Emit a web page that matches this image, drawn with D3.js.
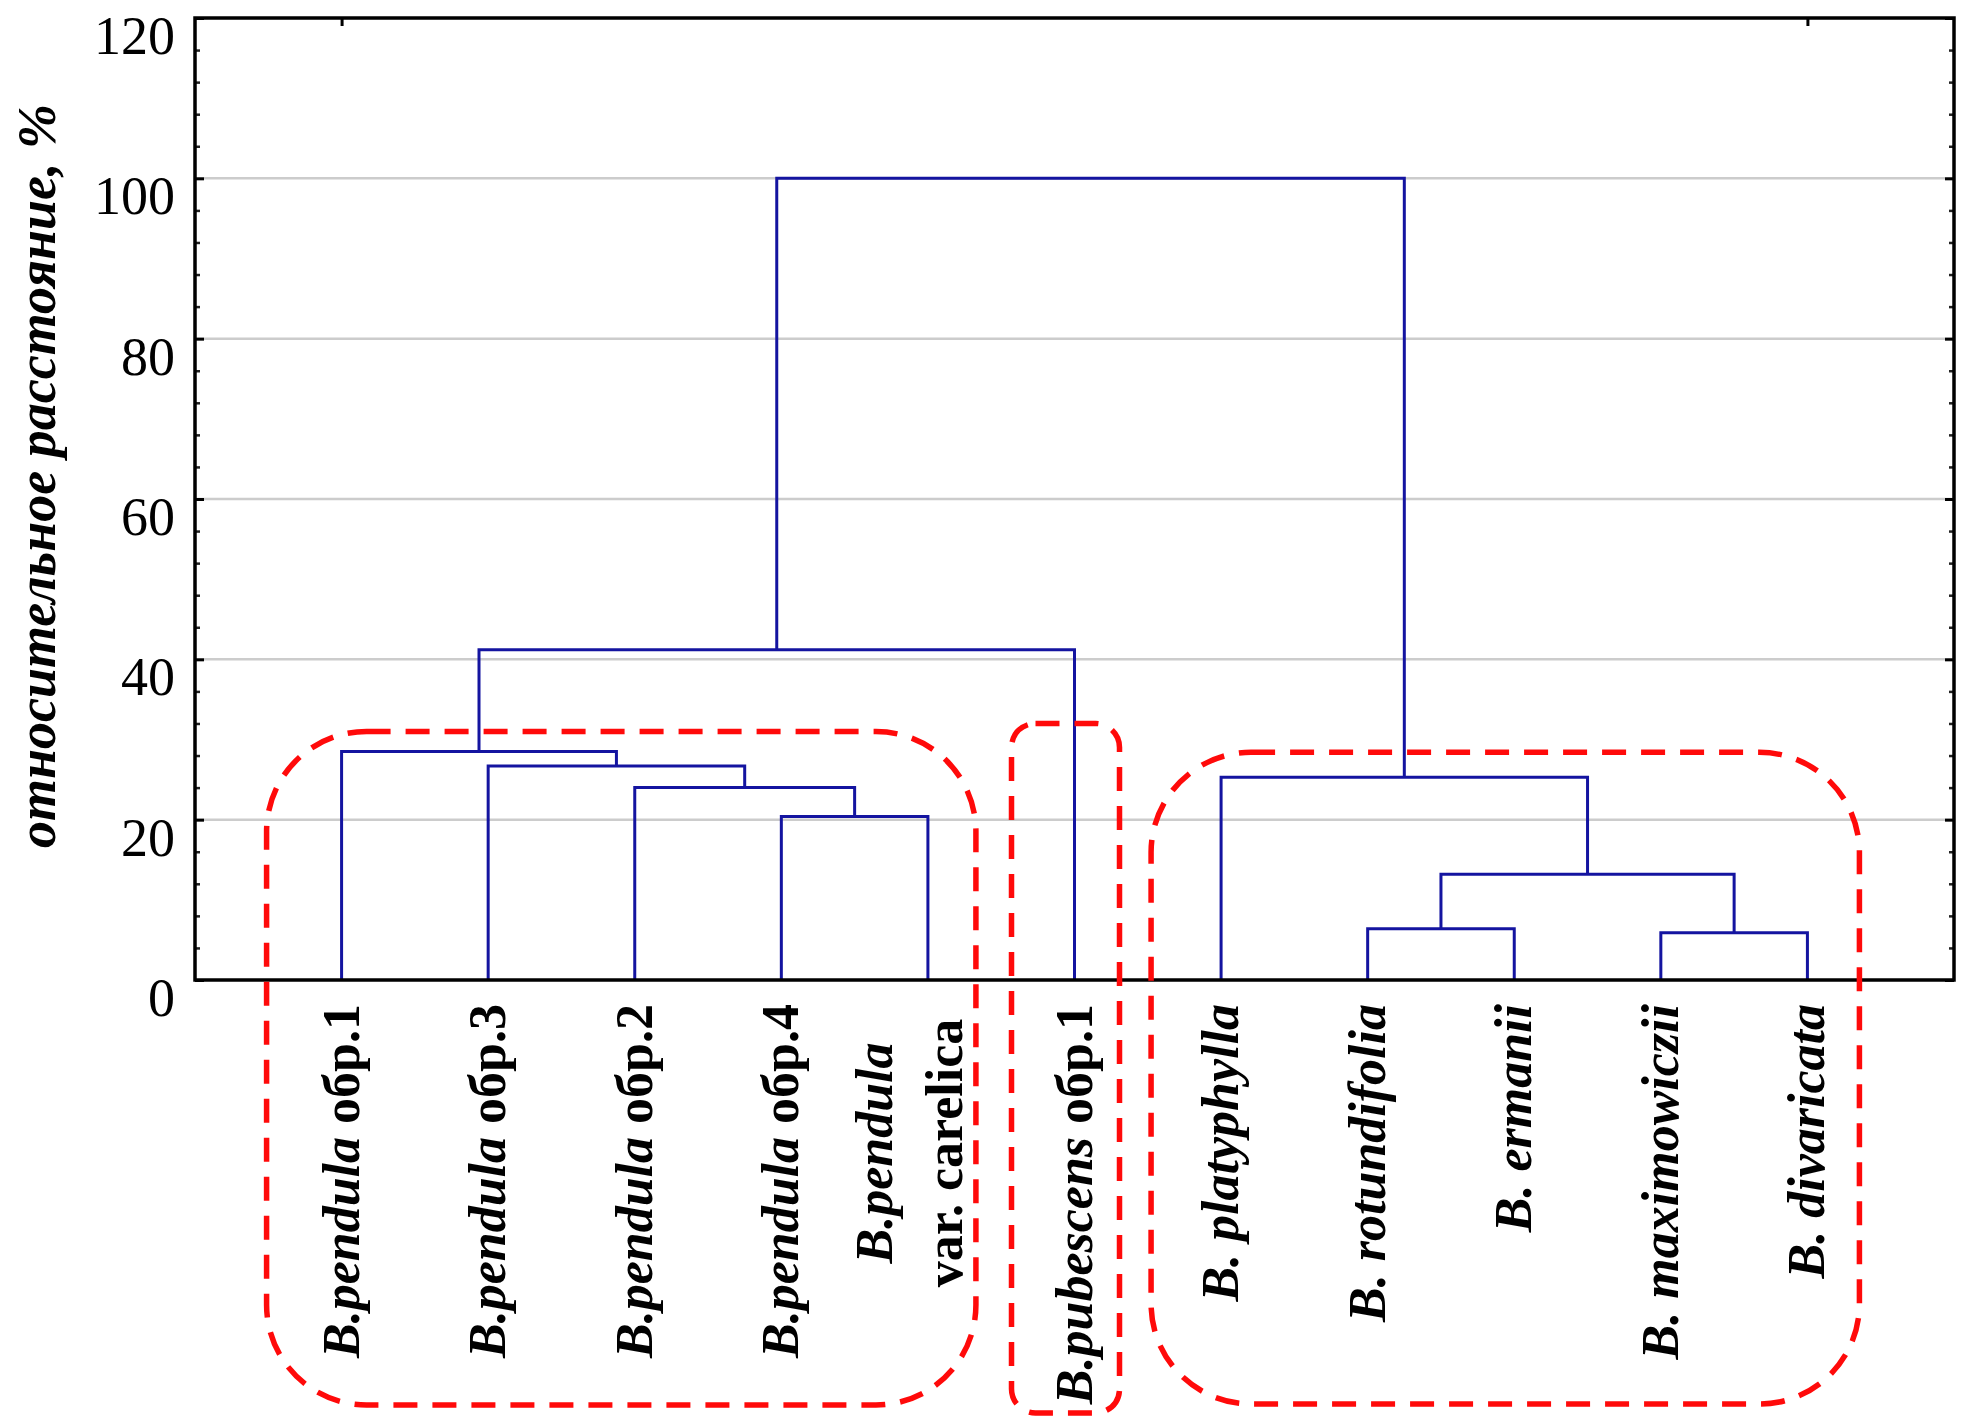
<!DOCTYPE html>
<html><head><meta charset="utf-8">
<script src="https://cdn.jsdelivr.net/npm/d3@7"></script>
<style>body{margin:0;background:#fff} svg{display:block}</style>
</head><body><svg id="c" width="1966" height="1424"></svg>
<script>
// ---- data ----
const leafItalic = ["B.pendula","B.pendula","B.pendula","B.pendula","B.pendula","B.pubescens","B. platyphylla","B. rotundifolia","B. ermanii","B. maximowiczii","B. divaricata"];
const leafPlain  = [" обр.1"," обр.3"," обр.2"," обр.4","var. carelica"," обр.1","","","","",""];
// linkage: node ids 0..10 are leaves, merge i creates node 11+i
const mergeLeft   = [3, 2, 1, 0, 7, 9, 15, 6, 14, 19];
const mergeRight  = [4, 11, 12, 13, 8, 10, 16, 17, 5, 18];
const mergeHeight = [20.4, 24.0, 26.7, 28.5, 6.4, 5.9, 13.2, 25.3, 41.2, 100];
const yTicks = [0, 20, 40, 60, 80, 100, 120];
const yTitle = "относительное расстояние, %";

// ---- layout ----
const W = 1966, H = 1424;
const L = 195, R = 1954, T = 18, B = 980;
const svg = d3.select("#c");
const serif = "'Liberation Serif','Times New Roman',serif";

const x = d3.scalePoint().domain(d3.range(leafItalic.length)).range([L, R]).padding(1);
const y = d3.scaleLinear().domain([0, 120]).range([B, T]);

// build hierarchy from linkage
const nLeaves = leafItalic.length;
function build(id) {
  if (id < nLeaves) return {id, h: 0};
  const m = id - nLeaves;
  return {id, h: mergeHeight[m], children: [build(mergeLeft[m]), build(mergeRight[m])]};
}
const root = d3.hierarchy(build(nLeaves + mergeHeight.length - 1));
root.eachAfter(n => {
  n.px = n.children ? d3.mean(n.children, c => c.px) : x(n.data.id);
});

// gridlines
svg.append("g").selectAll("line").data(yTicks.filter(v => v > 0 && v < 120)).join("line")
  .attr("x1", L).attr("x2", R).attr("y1", d => y(d)).attr("y2", d => y(d))
  .attr("stroke", "#cccccc").attr("stroke-width", 2.5);

// minor ticks (inside), left and right
const minor = d3.range(0, 121, 4).filter(v => v % 20 !== 0);
const axL = svg.append("g").attr("transform", `translate(${L},0)`)
  .call(d3.axisLeft(y).tickValues(minor).tickSize(-5).tickFormat(""));
axL.select(".domain").remove();
axL.selectAll("line").attr("stroke", "#222").attr("stroke-width", 2.5);
const axR = svg.append("g").attr("transform", `translate(${R},0)`)
  .call(d3.axisRight(y).tickValues(minor).tickSize(-5).tickFormat(""));
axR.select(".domain").remove();
axR.selectAll("line").attr("stroke", "#222").attr("stroke-width", 2.5);
const axR2 = svg.append("g").attr("transform", `translate(${R},0)`)
  .call(d3.axisRight(y).tickValues(yTicks).tickSize(-9).tickFormat(""));
axR2.select(".domain").remove();
axR2.selectAll("line").attr("stroke", "#000").attr("stroke-width", 3);

// major y axis with labels
const ay = svg.append("g").attr("transform", `translate(${L},0)`)
  .call(d3.axisLeft(y).tickValues(yTicks).tickSize(-9).tickPadding(20));
ay.select(".domain").remove();
ay.selectAll("line").attr("stroke", "#000").attr("stroke-width", 3);
ay.selectAll("text").attr("font-family", serif).attr("font-size", 54)
  .attr("fill", "#000").attr("dy", "0.66em");

// top ticks at first and last leaf
const axT = svg.append("g").attr("transform", `translate(0,${T})`)
  .call(d3.axisTop(x).tickValues([0, nLeaves - 1]).tickSize(-8).tickFormat(""));
axT.select(".domain").remove();
axT.selectAll("line").attr("stroke", "#000").attr("stroke-width", 3);

// dendrogram links
const links = root.descendants().filter(n => n.children);
svg.append("g").selectAll("path").data(links).join("path")
  .attr("fill", "none").attr("stroke", "#1414a0").attr("stroke-width", 3)
  .attr("d", n => {
    const [a, b] = n.children;
    return `M${a.px},${y(a.data.h)}V${y(n.data.h)}H${b.px}V${y(b.data.h)}`;
  });

// frame
svg.append("rect").attr("x", L).attr("y", T).attr("width", R - L).attr("height", B - T)
  .attr("fill", "none").attr("stroke", "#000").attr("stroke-width", 3.5);

// leaf labels
const lab = svg.append("g").attr("font-family", serif).attr("font-size", 52).attr("font-weight", "bold").attr("fill", "#000");
leafItalic.forEach((it, i) => {
  const px = x(i), pl = leafPlain[i];
  if (pl && !pl.startsWith(" ")) {
    lab.append("text").attr("transform", `translate(${px - 36},1153) rotate(-90)`)
      .attr("text-anchor", "middle").attr("font-style", "italic").text(it);
    lab.append("text").attr("transform", `translate(${px + 34},1153) rotate(-90)`)
      .attr("text-anchor", "middle").text(pl.trim());
  } else {
    const t = lab.append("text").attr("transform", `translate(${px + 17},1004) rotate(-90)`)
      .attr("text-anchor", "end").attr("xml:space", "preserve");
    t.append("tspan").attr("font-style", "italic").text(it);
    if (pl) t.append("tspan").text(pl);
  }
});

// y title
svg.append("text").attr("transform", "translate(55,476) rotate(-90)")
  .attr("text-anchor", "middle").attr("font-family", serif).attr("font-size", 54)
  .attr("font-weight", "bold").attr("font-style", "italic").text(yTitle);

// red dashed group outlines
const boxes = [
  {x0: x(0) - 75, x1: x(4) + 48, top: y(31.0), bottom: 1405, r: 100},
  {x0: x(5) - 63, x1: x(5) + 45, top: y(32.0), bottom: 1413, r: 24},
  {x0: x(6) - 70, x1: x(10) + 52, top: y(28.4), bottom: 1404, r: 100}
];
svg.append("g").selectAll("rect").data(boxes).join("rect")
  .attr("x", d => d.x0).attr("y", d => d.top)
  .attr("width", d => d.x1 - d.x0).attr("height", d => d.bottom - d.top)
  .attr("rx", d => d.r).attr("ry", d => d.r)
  .attr("fill", "none").attr("stroke", "#ff0a0a").attr("stroke-width", 5.5)
  .attr("stroke-dasharray", "24 15");
</script></body></html>
